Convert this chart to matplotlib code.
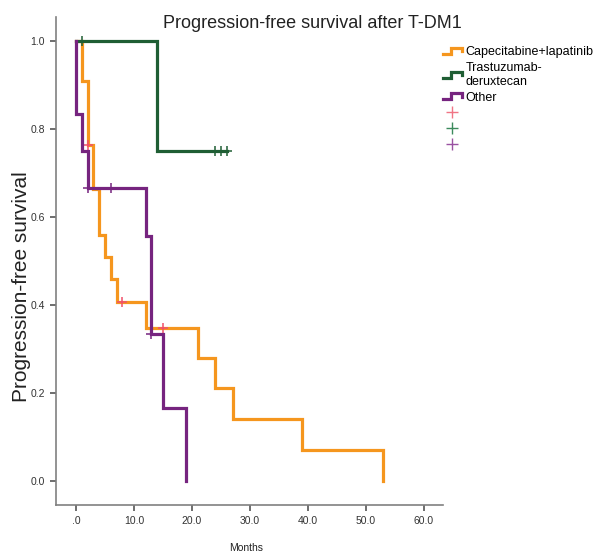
import matplotlib
matplotlib.use("Agg")
import matplotlib.pyplot as plt
from matplotlib.lines import Line2D
from matplotlib.legend_handler import HandlerLine2D
import numpy as np

plt.rcParams['font.family'] = ['Liberation Sans', 'DejaVu Sans']

# step curves: level holds from each time onward
cap_times = [0, 1, 2, 3, 4, 5, 6, 7, 12, 21, 24, 27, 39, 53]
cap_surv = [1.0, 0.909, 0.764, 0.663, 0.559, 0.509, 0.459, 0.407, 0.348, 0.280, 0.211, 0.141, 0.070, 0.0]
cap_cens = [2, 8, 15]

tdx_times = [0, 14, 26]
tdx_surv = [1.0, 0.75, 0.75]
tdx_cens = [1, 24, 25, 26]

oth_times = [0, 0, 1, 2, 12, 13, 15, 19]
oth_surv = [1.0, 0.833, 0.75, 0.667, 0.556, 0.333, 0.167, 0.0]
oth_cens = [2, 6, 13]

labels = ["Capecitabine+lapatinib", "Trastuzumab-\nderuxtecan", "Other"]
x_ticks = [0, 10, 20, 30, 40, 50, 60]
x_tick_labels = [".0", "10.0", "20.0", "30.0", "40.0", "50.0", "60.0"]
y_ticks = [0.0, 0.2, 0.4, 0.6, 0.8, 1.0]

line_cols = ['#F5961E', '#1F5E34', '#76247F']
cens_cols = ['#F0506A', '#1F5E34', '#76247F']
leg_cens_cols = ['#F07585', '#3C8A5C', '#9A52A2']


def level_at(times, surv, t):
    i = np.searchsorted(times, t, side='right') - 1
    return surv[i]


class StepHandler(HandlerLine2D):
    def create_artists(self, legend, orig_handle, xdescent, ydescent,
                       width, height, fontsize, trans):
        x0 = -xdescent
        y0 = -ydescent
        xs = [x0, x0 + 0.45 * width, x0 + 0.45 * width, x0 + width, x0 + width]
        ys = [y0 + 0.15 * height, y0 + 0.15 * height, y0 + 0.85 * height,
              y0 + 0.85 * height, y0 + 0.45 * height]
        ln = Line2D(xs, ys, color=orig_handle.get_color(),
                    linewidth=orig_handle.get_linewidth(), transform=trans,
                    solid_joinstyle='miter')
        return [ln]


fig = plt.figure(figsize=(5.94, 5.58), dpi=100)
ax = fig.add_axes([56 / 594, 1 - 505 / 558, (443 - 56) / 594, (505 - 17) / 558])

series = [(cap_times, cap_surv, cap_cens),
          (tdx_times, tdx_surv, tdx_cens),
          (oth_times, oth_surv, oth_cens)]

step_handles = []
for k, (tt, ss, cc) in enumerate(series):
    h, = ax.step(tt, ss, where='post', color=line_cols[k], linewidth=2.3,
                 solid_joinstyle='miter')
    step_handles.append(h)
    ys = [level_at(tt, ss, c) for c in cc]
    ax.plot(cc, ys, linestyle='none', marker='+', markersize=7,
            markeredgewidth=1.1, color=cens_cols[k])

ax.set_xlim(-3.45, 63.3)
ax.set_ylim(-0.0545, 1.0545)
ax.set_xticks(x_ticks)
ax.set_xticklabels(x_tick_labels)
ax.set_yticks(y_ticks)
ax.set_yticklabels([f"{v:.1f}" for v in y_ticks])

for s in ['top', 'right']:
    ax.spines[s].set_visible(False)
for s in ['left', 'bottom']:
    ax.spines[s].set_color('#808080')
    ax.spines[s].set_linewidth(1.2)
ax.tick_params(direction='out', length=4, width=1.2, color='#555555',
               labelsize=7.5, labelcolor='#333333', pad=4)

fig.text(22 / 594, 1 - 287 / 558, "Progression-free survival", rotation=90,
         ha='center', va='center', fontsize=15, color='#222222')
fig.text(246 / 594, 1 - 548 / 558, "Months", ha='center', va='center',
         fontsize=7.5, color='#222222')

fig.text(312 / 594, 1 - 23 / 558, "Progression-free survival after T-DM1",
         ha='center', va='center', fontsize=13, color='#222222')

cens_handles = [Line2D([], [], linestyle='none', marker='+', markersize=9,
                       markeredgewidth=1.0, color=c) for c in leg_cens_cols]
handles = step_handles + cens_handles
leg_labels = labels + ["", "", ""]
fig.legend(handles, leg_labels, loc='upper left',
           bbox_to_anchor=(443 / 594, 1 - 46 / 558), frameon=False,
           fontsize=9, handlelength=1.5, handletextpad=0.3,
           labelspacing=0.32, borderpad=0, borderaxespad=0,
           handler_map={h: StepHandler() for h in step_handles})

fig.savefig("out.png", dpi=100)
